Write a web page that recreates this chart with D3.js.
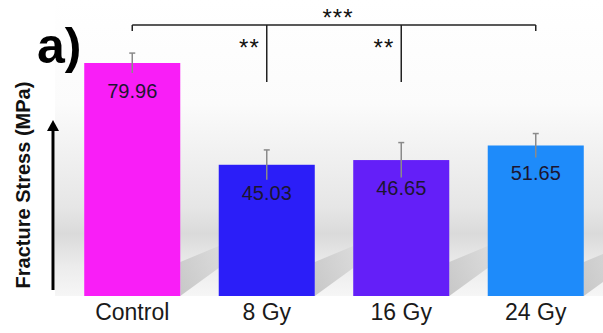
<!DOCTYPE html>
<html>
<head>
<meta charset="utf-8">
<script src="https://cdn.jsdelivr.net/npm/d3@7"></script>
<style>
  body { margin: 0; background: #fff; }
  svg { display: block; font-family: "Liberation Sans", Arial, Helvetica, sans-serif; }
</style>
</head>
<body>
<div id="chart"></div>
<script>
// chart values
const groups = ["Control", "8 Gy", "16 Gy", "24 Gy"];
const means = [79.96, 45.03, 46.65, 51.65];
const errors = [3.4, 5.1, 6.0, 4.1];
const colors = ["#f91ef7", "#2b1ef8", "#641ff8", "#1e8bfa"];
// significance: [from group, to group, stars]
const sigPairs = [["Control", "8 Gy", "**"], ["Control", "16 Gy", "**"], ["Control", "24 Gy", "***"]];

const W = 603, H = 333;
const baseY = 296;

const svg = d3.select("#chart").append("svg")
  .attr("width", W)
  .attr("height", H);

const x = d3.scaleBand()
  .domain(groups)
  .range([65, 603])
  .paddingInner(0.286)
  .paddingOuter(0.143);

const y = d3.scaleLinear()
  .domain([0, 100])
  .range([baseY, 4.6]);

// background wall gradient
const defs = svg.append("defs");
const wall = defs.append("linearGradient")
  .attr("id", "wall")
  .attr("x1", 0).attr("y1", 0).attr("x2", 0).attr("y2", 1);
wall.append("stop").attr("offset", "0%").attr("stop-color", "#ffffff");
wall.append("stop").attr("offset", "35%").attr("stop-color", "#fbfbfb");
wall.append("stop").attr("offset", "70%").attr("stop-color", "#e6e6e6");
wall.append("stop").attr("offset", "79%").attr("stop-color", "#dadada");
wall.append("stop").attr("offset", "90%").attr("stop-color", "#ececec");
wall.append("stop").attr("offset", "100%").attr("stop-color", "#f6f6f6");

const shade = defs.append("linearGradient")
  .attr("id", "shade")
  .attr("x1", 0).attr("y1", 1).attr("x2", 1).attr("y2", 0);
shade.append("stop").attr("offset", "0%").attr("stop-color", "#b8b8b8");
shade.append("stop").attr("offset", "100%").attr("stop-color", "#d8d8d8");

svg.append("rect")
  .attr("x", 55)
  .attr("y", 0)
  .attr("width", W - 55)
  .attr("height", baseY)
  .attr("fill", "url(#wall)");

// cast shadows to the right of each bar
svg.append("g")
  .selectAll("polygon")
  .data(groups)
  .join("polygon")
  .attr("points", d => {
    const xr = x(d) + x.bandwidth();
    const gap = x.step() - x.bandwidth();
    return [[xr, baseY], [xr, 262], [xr + gap, 246], [xr + gap, 268]].map(p => p.join(",")).join(" ");
  })
  .attr("fill", "url(#shade)")
  .style("opacity", 0.75);

// bars
svg.append("g")
  .selectAll("rect")
  .data(groups)
  .join("rect")
  .attr("x", d => x(d))
  .attr("y", (d, i) => y(means[i]))
  .attr("width", x.bandwidth())
  .attr("height", (d, i) => baseY - y(means[i]))
  .attr("fill", (d, i) => colors[i]);

// error bars
const eb = svg.append("g")
  .attr("stroke", "#8a8a8a")
  .attr("stroke-width", 1.5);
groups.forEach((g, i) => {
  const cx = x(g) + x.bandwidth() / 2;
  eb.append("line")
    .attr("x1", cx).attr("x2", cx)
    .attr("y1", y(means[i] + errors[i]))
    .attr("y2", y(means[i] - errors[i]));
  eb.append("line")
    .attr("x1", cx - 3).attr("x2", cx + 3)
    .attr("y1", y(means[i] + errors[i]))
    .attr("y2", y(means[i] + errors[i]));
});

// value labels
svg.append("g")
  .selectAll("text")
  .data(groups)
  .join("text")
  .attr("x", d => x(d) + x.bandwidth() / 2)
  .attr("y", (d, i) => y(means[i]) + 35)
  .attr("text-anchor", "middle")
  .attr("fill", "#1c1530")
  .style("font-size", "20px")
  .text((d, i) => means[i].toFixed(2));

// x axis labels
svg.append("g")
  .selectAll("text")
  .data(groups)
  .join("text")
  .attr("x", d => x(d) + x.bandwidth() / 2)
  .attr("y", 320)
  .attr("text-anchor", "middle")
  .attr("fill", "#1a1a1a")
  .style("font-size", "23px")
  .text(d => d);

// significance brackets
const cx = g => x(g) + x.bandwidth() / 2;
const topY = 25;
const sig = svg.append("g")
  .attr("stroke", "#222")
  .attr("stroke-width", 1.5);
sig.append("line")
  .attr("x1", cx(groups[0])).attr("x2", cx(groups[groups.length - 1]))
  .attr("y1", topY).attr("y2", topY);
sig.append("line")
  .attr("x1", cx(groups[0])).attr("x2", cx(groups[0]))
  .attr("y1", topY).attr("y2", topY + 6);
sig.append("line")
  .attr("x1", cx(groups[groups.length - 1])).attr("x2", cx(groups[groups.length - 1]))
  .attr("y1", topY).attr("y2", topY + 6);

sigPairs.forEach(([a, b, stars]) => {
  if (stars.length === 3) {
    svg.append("text")
      .attr("x", (cx(groups[0]) + cx(groups[groups.length - 1])) / 2 + 4)
      .attr("y", 26)
      .attr("text-anchor", "middle")
      .attr("fill", "#111")
      .style("font-size", "24px")
      .style("letter-spacing", "1px")
      .text(stars);
  } else {
    sig.append("line")
      .attr("x1", cx(b)).attr("x2", cx(b))
      .attr("y1", topY).attr("y2", 82);
    svg.append("text")
      .attr("x", cx(b) - 7)
      .attr("y", 56)
      .attr("text-anchor", "end")
      .attr("fill", "#111")
      .style("font-size", "24px")
      .style("letter-spacing", "1px")
      .text(stars);
  }
});

// y axis arrow and title
svg.append("line")
  .attr("x1", 53).attr("x2", 53)
  .attr("y1", 290).attr("y2", 128)
  .attr("stroke", "#000")
  .attr("stroke-width", 3);
svg.append("polygon")
  .attr("points", "53,120 47,131 59,131")
  .attr("fill", "#000");

svg.append("text")
  .attr("transform", "translate(30,185) rotate(-90)")
  .attr("text-anchor", "middle")
  .attr("fill", "#111")
  .style("font-size", "20px")
  .style("font-weight", "bold")
  .text("Fracture Stress (MPa)");

// panel letter
svg.append("text")
  .attr("x", 37)
  .attr("y", 63)
  .attr("fill", "#000")
  .style("font-size", "50px")
  .style("font-weight", "bold")
  .text("a)");
</script>
</body>
</html>
